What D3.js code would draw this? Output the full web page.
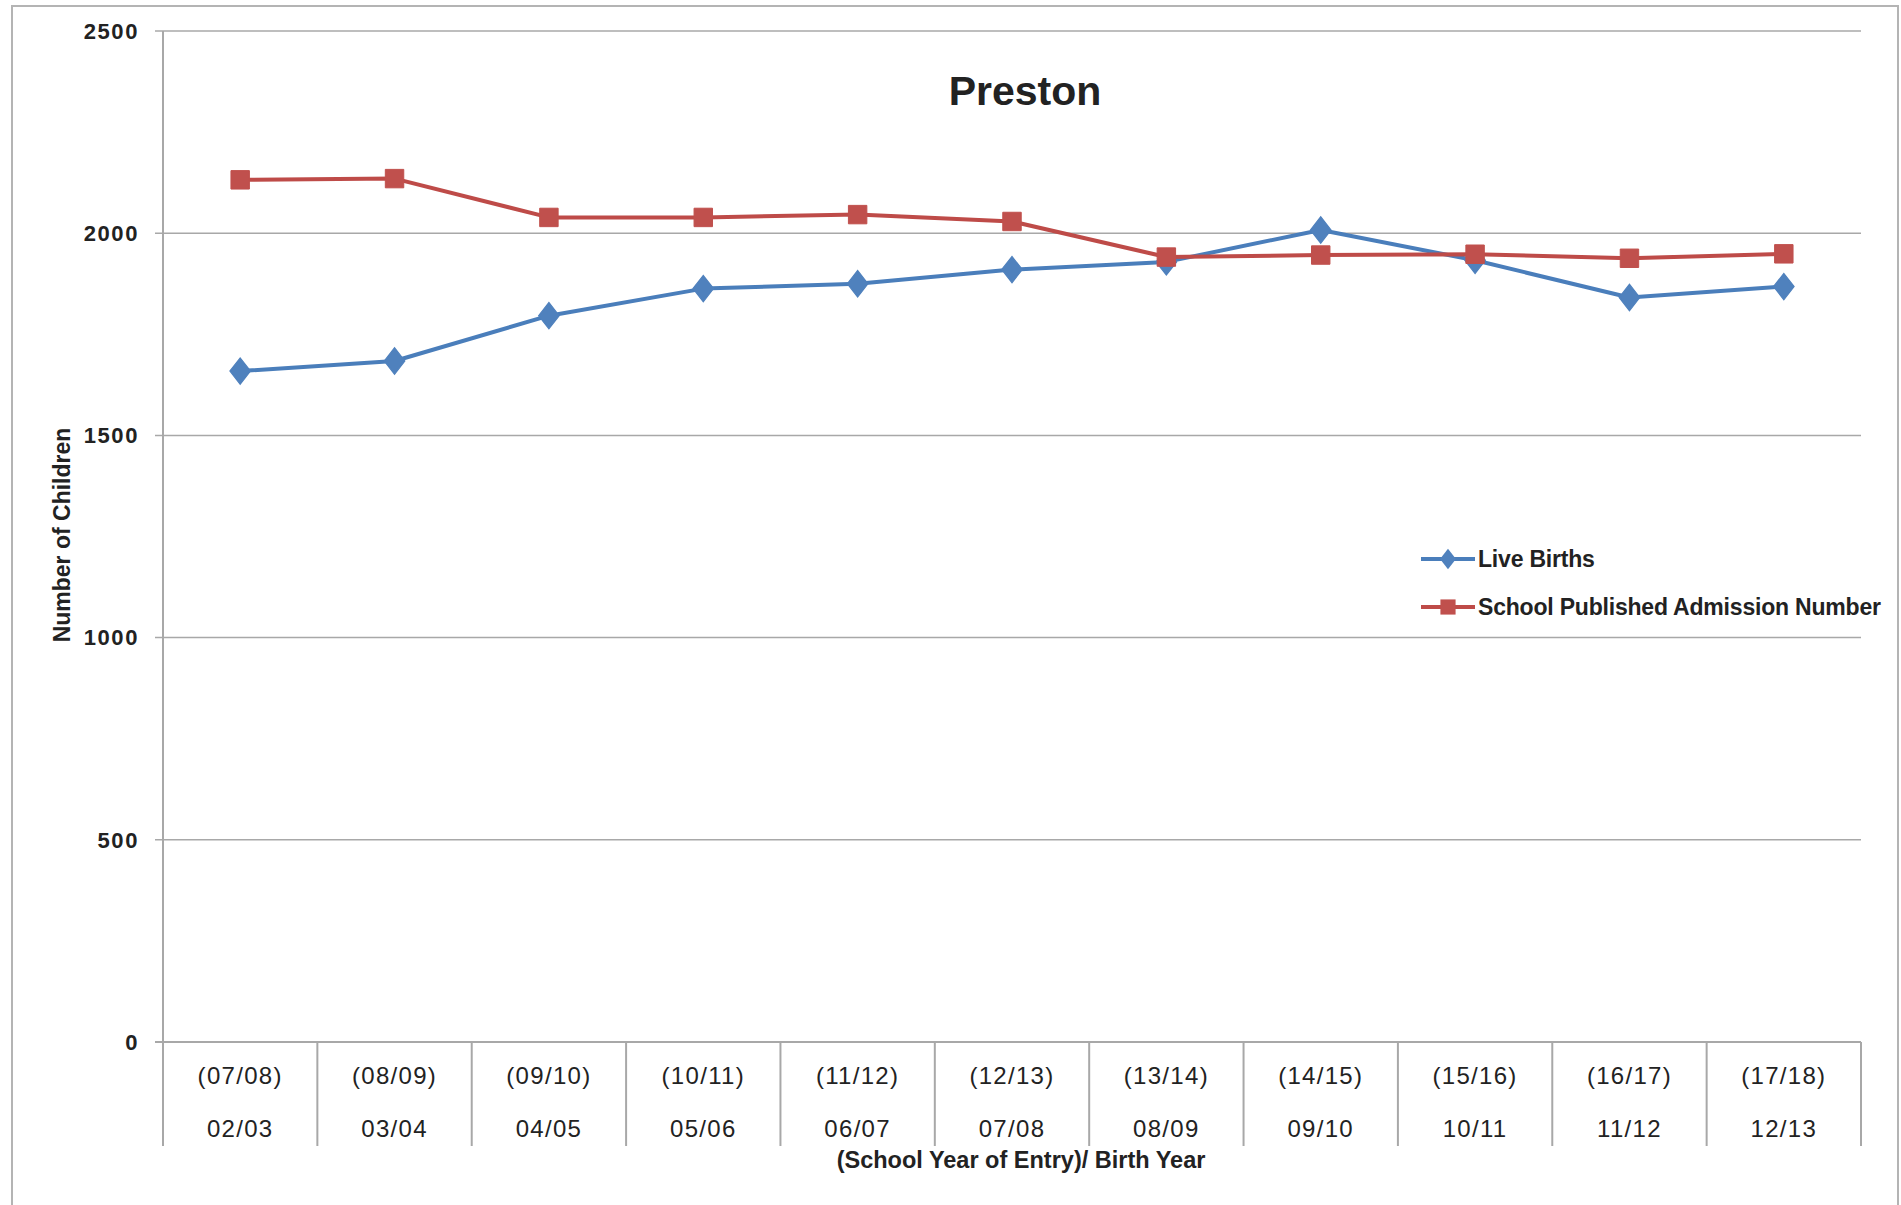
<!DOCTYPE html>
<html>
  <head>
    <title>Preston</title>
    <script src="https://cdn.jsdelivr.net/npm/d3@7"></script>
    <style>
      body { margin: 0; background: #fff; }
      text { font-family: "Liberation Sans", Arial, sans-serif; fill: #222; }
    </style>
  </head>
  <body>
    <svg width="1901" height="1205" id="mainsvg"></svg>
    <script>
      // data
      const entryYears = ['(07/08)', '(08/09)', '(09/10)', '(10/11)', '(11/12)', '(12/13)', '(13/14)', '(14/15)', '(15/16)', '(16/17)', '(17/18)'];
      const birthYears = ['02/03', '03/04', '04/05', '05/06', '06/07', '07/08', '08/09', '09/10', '10/11', '11/12', '12/13'];
      const liveBirths = [1659, 1684, 1796, 1863, 1875, 1910, 1929, 2008, 1933, 1841, 1868];
      const admissionNumber = [2132, 2135, 2039, 2039, 2046, 2029, 1941, 1946, 1948, 1938, 1949];
      const yTicks = [0, 500, 1000, 1500, 2000, 2500];

      const svg = d3.select('#mainsvg');
      const width = +svg.attr('width');
      const height = +svg.attr('height');
      const plot = {left: 163, right: 1861, top: 31, bottom: 1042};

      // chart outline
      svg.append('rect')
        .attr('x', 12).attr('y', 6)
        .attr('width', 1886).attr('height', height)
        .attr('fill', 'none')
        .attr('stroke', '#b4b4b4')
        .attr('stroke-width', 2);

      const x = d3.scaleBand().domain(birthYears).range([plot.left, plot.right]);
      const y = d3.scaleLinear().domain([0, 2500]).range([plot.bottom, plot.top]);

      // gridlines + y labels
      const gy = svg.append('g');
      gy.selectAll('line').data(yTicks).join('line')
        .attr('x1', plot.left - 8).attr('x2', plot.right)
        .attr('y1', d => y(d)).attr('y2', d => y(d))
        .attr('stroke', '#a8a8a8')
        .attr('stroke-width', d => d === 0 ? 2 : 1.5);
      gy.selectAll('text').data(yTicks).join('text')
        .attr('x', 139)
        .attr('y', d => y(d))
        .attr('dy', '0.35em')
        .attr('text-anchor', 'end')
        .attr('font-size', 22)
        .attr('font-weight', 'bold')
        .attr('letter-spacing', 1.6)
        .text(d => d);
      svg.append('line')
        .attr('x1', plot.left).attr('x2', plot.left)
        .attr('y1', plot.top).attr('y2', plot.bottom)
        .attr('stroke', '#a8a8a8').attr('stroke-width', 2);

      // category boundaries below the axis
      const bounds = birthYears.map(d => x(d)).concat([plot.right]);
      svg.append('g').selectAll('line').data(bounds).join('line')
        .attr('x1', d => d).attr('x2', d => d)
        .attr('y1', plot.bottom).attr('y2', 1146)
        .attr('stroke', '#a8a8a8').attr('stroke-width', 2);

      const cx = d => x(d) + x.bandwidth() / 2;
      svg.append('g').selectAll('text').data(entryYears).join('text')
        .attr('x', (d, i) => cx(birthYears[i]))
        .attr('y', 1076).attr('dy', '0.35em')
        .attr('text-anchor', 'middle')
        .attr('font-size', 24)
        .attr('letter-spacing', 1.3)
        .text(d => d);
      svg.append('g').selectAll('text').data(birthYears).join('text')
        .attr('x', d => cx(d))
        .attr('y', 1129).attr('dy', '0.35em')
        .attr('text-anchor', 'middle')
        .attr('font-size', 24)
        .attr('letter-spacing', 1.3)
        .text(d => d);

      // axis titles and chart title
      svg.append('text')
        .attr('x', 1021).attr('y', 1160).attr('dy', '0.35em')
        .attr('text-anchor', 'middle')
        .attr('font-size', 23.5).attr('font-weight', 'bold')
        .text('(School Year of Entry)/ Birth Year');
      svg.append('text')
        .attr('transform', 'translate(62,535) rotate(-90)')
        .attr('dy', '0.35em')
        .attr('text-anchor', 'middle')
        .attr('font-size', 23).attr('font-weight', 'bold')
        .text('Number of Children');
      svg.append('text')
        .attr('x', 1025).attr('y', 105)
        .attr('text-anchor', 'middle')
        .attr('font-size', 41).attr('font-weight', 'bold')
        .attr('fill', '#111')
        .text('Preston');

      // series
      const series = [
        {name: 'Live Births', values: liveBirths, line: '#4A7EBB', fill: '#4F81BD', symbol: 'diamond'},
        {name: 'School Published Admission Number', values: admissionNumber, line: '#BE4B48', fill: '#C0504D', symbol: 'square'}
      ];
      const marker = s => s.symbol === 'diamond'
        ? d3.symbol().type(d3.symbolDiamond).size(200)()
        : d3.symbol().type(d3.symbolSquare).size(340)();
      const line = d3.line().x((d, i) => cx(birthYears[i])).y(d => y(d));

      series.forEach(s => {
        const g = svg.append('g');
        g.append('path')
          .attr('d', line(s.values))
          .attr('fill', 'none')
          .attr('stroke', s.line)
          .attr('stroke-width', 4)
          .attr('stroke-linejoin', 'round');
        g.selectAll('path.m').data(s.values).join('path')
          .attr('class', 'm')
          .attr('transform', (d, i) => `translate(${cx(birthYears[i])},${y(d)})${s.symbol === 'diamond' ? ' scale(1.35,1)' : ''}`)
          .attr('d', marker(s))
          .attr('fill', s.fill)
          .attr('stroke', s.fill)
          .attr('stroke-width', 1);
      });

      // legend
      const legend = svg.append('g');
      series.forEach((s, i) => {
        const ly = 559 + i * 48;
        legend.append('line')
          .attr('x1', 1421).attr('x2', 1475)
          .attr('y1', ly).attr('y2', ly)
          .attr('stroke', s.line).attr('stroke-width', 4);
        legend.append('path')
          .attr('transform', `translate(1448,${ly})${s.symbol === 'diamond' ? ' scale(1.35,1)' : ''}`)
          .attr('d', s.symbol === 'diamond'
            ? d3.symbol().type(d3.symbolDiamond).size(120)()
            : d3.symbol().type(d3.symbolSquare).size(230)())
          .attr('fill', s.fill);
        legend.append('text')
          .attr('x', 1478).attr('y', ly).attr('dy', '0.35em')
          .attr('font-size', 23).attr('font-weight', 'bold')
          .attr('letter-spacing', -0.2)
          .text(s.name);
      });
    </script>
  </body>
</html>
